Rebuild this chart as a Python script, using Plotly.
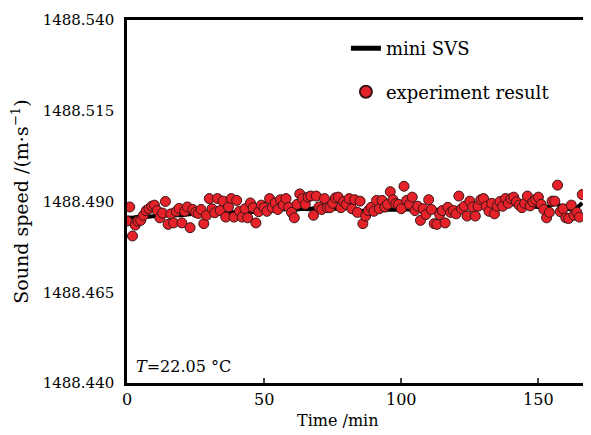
import plotly.graph_objects as go

# experiment result, one reading per minute
exp_t = list(range(0, 167))
exp_v = [
    1488.4846, 1488.4885, 1488.4805, 1488.4835, 1488.4846, 1488.4848, 1488.4862, 1488.4875, 1488.4880, 1488.4887,
    1488.4890, 1488.4875, 1488.4855, 1488.4868, 1488.4900, 1488.4837, 1488.4866, 1488.4841, 1488.4873, 1488.4881,
    1488.4841, 1488.4873, 1488.4885, 1488.4828, 1488.4878, 1488.4870, 1488.4867, 1488.4878, 1488.4839, 1488.4862,
    1488.4908, 1488.4880, 1488.4869, 1488.4908, 1488.4875, 1488.4901, 1488.4857, 1488.4885, 1488.4908, 1488.4857,
    1488.4903, 1488.4873, 1488.4857, 1488.4880, 1488.4855, 1488.4896, 1488.4883, 1488.4841, 1488.4872, 1488.4890,
    1488.4883, 1488.4873, 1488.4908, 1488.4883, 1488.4896, 1488.4878, 1488.4905, 1488.4890, 1488.4908, 1488.4884,
    1488.4870, 1488.4855, 1488.4892, 1488.4921, 1488.4908, 1488.4892, 1488.4912, 1488.4915, 1488.4862, 1488.4915,
    1488.4885, 1488.4878, 1488.4908, 1488.4883, 1488.4883, 1488.4895, 1488.4910, 1488.4912, 1488.4883, 1488.4900,
    1488.4892, 1488.4908, 1488.4880, 1488.4905, 1488.4870, 1488.4901, 1488.4839, 1488.4860, 1488.4875, 1488.4884,
    1488.4873, 1488.4903, 1488.4880, 1488.4903, 1488.4885, 1488.4892, 1488.4927, 1488.4905, 1488.4894, 1488.4892,
    1488.4880, 1488.4942, 1488.4903, 1488.4892, 1488.4912, 1488.4875, 1488.4887, 1488.4848, 1488.4880, 1488.4864,
    1488.4905, 1488.4878, 1488.4839, 1488.4837, 1488.4864, 1488.4875, 1488.4841, 1488.4884, 1488.4870, 1488.4875,
    1488.4866, 1488.4915, 1488.4880, 1488.4887, 1488.4860, 1488.4901, 1488.4885, 1488.4860, 1488.4887, 1488.4905,
    1488.4908, 1488.4887, 1488.4873, 1488.4895, 1488.4866, 1488.4887, 1488.4900, 1488.4887, 1488.4908, 1488.4895,
    1488.4908, 1488.4912, 1488.4899, 1488.4890, 1488.4883, 1488.4895, 1488.4915, 1488.4888, 1488.4899, 1488.4905,
    1488.4912, 1488.4892, 1488.4878, 1488.4855, 1488.4870, 1488.4901, 1488.4901, 1488.4945, 1488.4872, 1488.4880,
    1488.4855, 1488.4853, 1488.4890, 1488.4862, 1488.4870, 1488.4857, 1488.4919,
]

# mini SVS, every 2 minutes
svs_t = list(range(0, 167, 2))
svs_v = [
    1488.4856, 1488.4855, 1488.4858, 1488.4857, 1488.4858, 1488.4860, 1488.4859, 1488.4862, 1488.4861, 1488.4863,
    1488.4862, 1488.4864, 1488.4866, 1488.4865, 1488.4867,
    1488.4866, 1488.4868, 1488.4870, 1488.4869, 1488.4871, 1488.4870, 1488.4868, 1488.4872, 1488.4871, 1488.4874,
    1488.4873, 1488.4876, 1488.4878, 1488.4877,
    1488.4879, 1488.4876, 1488.4878, 1488.4880, 1488.4879, 1488.4881, 1488.4878, 1488.4880, 1488.4879, 1488.4881,
    1488.4880, 1488.4882, 1488.4879, 1488.4876,
    1488.4874, 1488.4876, 1488.4875, 1488.4877, 1488.4876, 1488.4878, 1488.4877, 1488.4879, 1488.4878, 1488.4876,
    1488.4874, 1488.4875, 1488.4877,
    1488.4876, 1488.4878, 1488.4880, 1488.4879, 1488.4882, 1488.4884, 1488.4883, 1488.4885, 1488.4887, 1488.4886,
    1488.4888, 1488.4887, 1488.4889, 1488.4891,
    1488.4893, 1488.4892, 1488.4889, 1488.4887, 1488.4886, 1488.4885, 1488.4883, 1488.4887, 1488.4894, 1488.4889,
    1488.4880, 1488.4878, 1488.4882, 1488.4896,
]

y_ticks = [1488.440, 1488.465, 1488.490, 1488.515, 1488.540]
x_ticks = [0, 50, 100, 150]

font = "DejaVu Serif, Liberation Serif, serif"

fig = go.Figure()
fig.add_trace(go.Scatter(
    x=svs_t, y=svs_v, mode="lines", name="mini SVS", legendgroup="a",
    line=dict(color="black", width=4),
))
fig.add_trace(go.Scatter(
    x=exp_t, y=exp_v, mode="markers", name="experiment result", legendgroup="b",
    marker=dict(color="#e5222a", size=10, line=dict(color="#3a1515", width=1)),
))

fig.add_annotation(
    x=0.015, y=0.015, xref="paper", yref="paper", xanchor="left", yanchor="bottom",
    text="<i>T</i>=22.05 °C", showarrow=False, font=dict(size=16, color="black", family=font),
)
# x title sits a little left of the plot centre in the reference
fig.add_annotation(
    x=0.46, y=-0.072, xref="paper", yref="paper", xanchor="center", yanchor="top",
    text="Time /min", showarrow=False, font=dict(size=16, color="black", family=font),
)

# page body has an 8px margin, so the figure is 8px smaller than the window
fig.update_layout(
    width=583, height=427,
    margin=dict(l=119, r=3, t=12, b=52),
    plot_bgcolor="white", paper_bgcolor="white",
    font=dict(family=font, size=16, color="black"),
    showlegend=True,
    legend=dict(
        x=0.478, y=0.972, xanchor="left", yanchor="top",
        bgcolor="rgba(0,0,0,0)", tracegroupgap=17,
        font=dict(size=18, family=font), itemsizing="constant",
    ),
)
fig.update_xaxes(
    range=[0, 167], tickvals=x_ticks, ticks="inside", ticklen=5, tickwidth=2,
    tickfont=dict(size=16),
    showline=True, linecolor="black", linewidth=2.5, mirror=True, showgrid=False, zeroline=False,
)
fig.update_yaxes(
    range=[1488.440, 1488.540], tickvals=y_ticks, tickformat=".3f", ticks="",
    tickfont=dict(size=15), ticklabelstandoff=7,
    showline=True, linecolor="black", linewidth=2.5, mirror=True, showgrid=False, zeroline=False,
    title=dict(text="Sound speed /(m·s<sup>−1</sup>)", standoff=10, font=dict(size=19)),
)

fig.write_html("out.html")
